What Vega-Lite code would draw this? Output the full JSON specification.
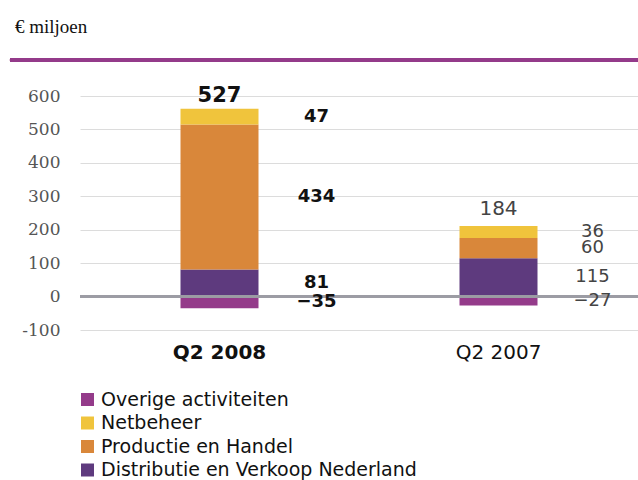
{
  "$schema": "https://vega.github.io/schema/vega-lite/v6.json",
  "width": 558,
  "height": 234,
  "autosize": {"type": "none"},
  "padding": {"left": 80, "top": 96, "right": 0, "bottom": 150},
  "background": "white",
  "title": {"text": "€ miljoen", "anchor": "start", "frame": "group", "dx": -65, "offset": 21, "font": "Liberation Serif", "fontSize": 19, "fontWeight": "normal", "color": "#111"},
  "config": {"view": {"stroke": null}, "axisY": {"labelOverlap": false, "tickCount": 10}},
  "data": {"values": [
    {"period": "Q2 2008", "segment": "Distributie en Verkoop Nederland", "value": 81, "order": 1},
    {"period": "Q2 2008", "segment": "Productie en Handel", "value": 434, "order": 2},
    {"period": "Q2 2008", "segment": "Netbeheer", "value": 47, "order": 3},
    {"period": "Q2 2008", "segment": "Overige activiteiten", "value": -35, "order": 4},
    {"period": "Q2 2007", "segment": "Distributie en Verkoop Nederland", "value": 115, "order": 1},
    {"period": "Q2 2007", "segment": "Productie en Handel", "value": 60, "order": 2},
    {"period": "Q2 2007", "segment": "Netbeheer", "value": 36, "order": 3},
    {"period": "Q2 2007", "segment": "Overige activiteiten", "value": -27, "order": 4}
  ]},
  "layer": [
    {
      "mark": {"type": "bar", "size": 78},
      "encoding": {
        "x": {"field": "period", "type": "nominal", "sort": ["Q2 2008", "Q2 2007"],
              "scale": {"paddingInner": 0, "paddingOuter": 0},
              "axis": {"title": null, "ticks": false, "domain": false, "labelAngle": 0, "labelPadding": 12, "labelFontSize": 20, "labelFont": "DejaVu Sans", "labelColor": "#111",
                       "labelFontWeight": {"expr": "datum.value == 'Q2 2008' ? 'bold' : 'normal'"}}},
        "y": {"field": "value", "type": "quantitative", "stack": "zero",
              "scale": {"domain": [-100, 600], "nice": false},
              "axis": {"title": null, "values": [-100, 0, 100, 200, 300, 400, 500, 600], "tickCount": 10, "labelOverlap": false, "grid": true, "gridColor": "#dcdcdc", "domain": false, "ticks": false, "labelPadding": 20, "labelFont": "DejaVu Serif", "labelFontSize": 17, "labelColor": "#555", "labelExpr": "datum.value + ''"}},
        "color": {"field": "segment", "type": "nominal",
                  "scale": {"domain": ["Overige activiteiten", "Netbeheer", "Productie en Handel", "Distributie en Verkoop Nederland"],
                            "range": ["#943B8A", "#F0C43C", "#D9873A", "#5E3A7E"]},
                  "legend": {"orient": "none", "legendX": -2, "legendY": 294, "title": null, "symbolType": "square", "symbolSize": 169, "symbolStrokeWidth": 0, "labelFontSize": 19, "labelLimit": 0, "labelFont": "DejaVu Sans", "labelColor": "#111", "rowPadding": 3.5, "labelOffset": 4}},
        "order": {"field": "order", "type": "quantitative"}
      }
    },
    {
      "mark": {"type": "rule", "color": "#9c9ca4", "strokeWidth": 2},
      "encoding": {"y": {"datum": 0}}
    },
    {
      "mark": {"type": "rule", "color": "#943B8A", "strokeWidth": 3},
      "encoding": {
        "y": {"datum": 708},
        "x": {"datum": "Q2 2008", "bandPosition": -0.251},
        "x2": {"datum": "Q2 2007", "bandPosition": 1}
      }
    },
    {
      "transform": [
        {"stack": "value", "groupby": ["period"], "sort": [{"field": "order"}], "as": ["y0", "y1"]},
        {"calculate": "(datum.y0 + datum.y1) / 2", "as": "mid"},
        {"filter": "datum.period == 'Q2 2008'"}
      ],
      "mark": {"type": "text", "dx": 97, "fontSize": 18, "fontWeight": "bold", "font": "DejaVu Sans", "color": "#111", "baseline": "middle"},
      "encoding": {
        "x": {"field": "period", "type": "nominal", "sort": ["Q2 2008", "Q2 2007"]},
        "y": {"field": "mid", "type": "quantitative"},
        "text": {"field": "value", "type": "quantitative"}
      }
    },
    {
      "transform": [
        {"stack": "value", "groupby": ["period"], "sort": [{"field": "order"}], "as": ["y0", "y1"]},
        {"calculate": "(datum.y0 + datum.y1) / 2", "as": "mid"},
        {"filter": "datum.period == 'Q2 2007'"}
      ],
      "mark": {"type": "text", "dx": 94, "fontSize": 18, "fontWeight": "normal", "font": "DejaVu Sans", "color": "#444", "baseline": "middle"},
      "encoding": {
        "x": {"field": "period", "type": "nominal", "sort": ["Q2 2008", "Q2 2007"]},
        "y": {"field": "mid", "type": "quantitative"},
        "text": {"field": "value", "type": "quantitative"}
      }
    },
    {
      "transform": [
        {"stack": "value", "groupby": ["period"], "sort": [{"field": "order"}], "as": ["y0", "y1"]},
        {"aggregate": [{"op": "sum", "field": "value", "as": "total"}, {"op": "max", "field": "y1", "as": "top"}], "groupby": ["period"]},
        {"filter": "datum.period == 'Q2 2008'"}
      ],
      "mark": {"type": "text", "dy": -3, "fontSize": 21, "fontWeight": "bold", "font": "DejaVu Sans", "color": "#111", "baseline": "bottom"},
      "encoding": {
        "x": {"field": "period", "type": "nominal", "sort": ["Q2 2008", "Q2 2007"]},
        "y": {"field": "top", "type": "quantitative"},
        "text": {"field": "total", "type": "quantitative"}
      }
    },
    {
      "transform": [
        {"stack": "value", "groupby": ["period"], "sort": [{"field": "order"}], "as": ["y0", "y1"]},
        {"aggregate": [{"op": "sum", "field": "value", "as": "total"}, {"op": "max", "field": "y1", "as": "top"}], "groupby": ["period"]},
        {"filter": "datum.period == 'Q2 2007'"}
      ],
      "mark": {"type": "text", "dy": -7, "fontSize": 20, "fontWeight": "normal", "font": "DejaVu Sans", "color": "#444", "baseline": "bottom"},
      "encoding": {
        "x": {"field": "period", "type": "nominal", "sort": ["Q2 2008", "Q2 2007"]},
        "y": {"field": "top", "type": "quantitative"},
        "text": {"field": "total", "type": "quantitative"}
      }
    }
  ]
}
